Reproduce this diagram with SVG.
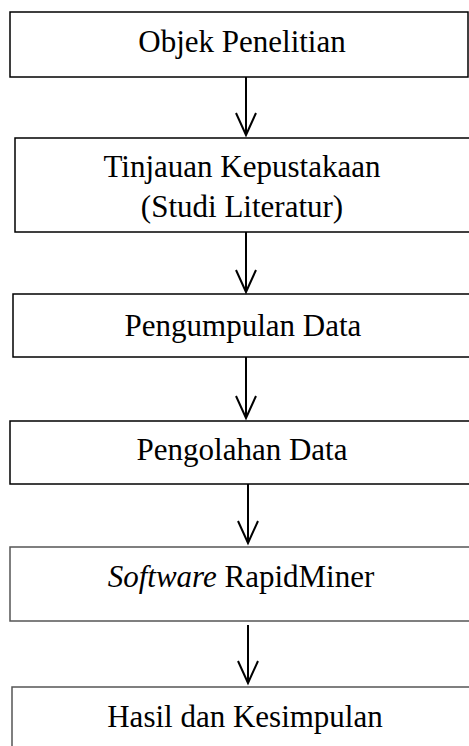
<svg xmlns="http://www.w3.org/2000/svg" width="469" height="746" viewBox="0 0 469 746">
<style>
.box{fill:#fff;stroke:#000;stroke-width:1.5}
.gray{stroke:#555}
text{font-family:'Liberation Serif','Times New Roman',Times,serif;font-size:31px;fill:#000;text-anchor:middle}
.c{stroke:#000;stroke-width:2;fill:none}
</style>
<defs>
<marker id="ah" markerWidth="26" markerHeight="24" refX="23" refY="12" orient="auto" markerUnits="userSpaceOnUse" viewBox="0 0 26 24">
<path d="M1,2 L23,12 L1,22" fill="none" stroke="#000" stroke-width="2"/>
</marker>
</defs>
<rect width="469" height="746" fill="#fff"/>
<g id="n1"><rect class="box" x="10" y="12" width="458" height="65"/><text x="242" y="52" font-family="Liberation Serif, serif">Objek Penelitian</text></g>
<g id="n2"><rect class="box" x="15" y="138" width="470" height="94"/><text x="242" y="177" font-family="Liberation Serif, serif">Tinjauan Kepustakaan</text><text x="242" y="217" font-family="Liberation Serif, serif">(Studi Literatur)</text></g>
<g id="n3"><rect class="box" x="13" y="294" width="470" height="63"/><text x="243" y="336" font-family="Liberation Serif, serif">Pengumpulan Data</text></g>
<g id="n4"><rect class="box" x="10" y="421" width="470" height="63"/><text x="242" y="460" font-family="Liberation Serif, serif">Pengolahan Data</text></g>
<g id="n5"><rect class="box gray" x="10" y="547" width="470" height="74"/><text x="241" y="587" font-family="Liberation Serif, serif"><tspan font-style="italic">Software</tspan> RapidMiner</text></g>
<g id="n6"><rect class="box gray" x="12" y="687" width="470" height="80"/><text x="245" y="727" font-family="Liberation Serif, serif">Hasil dan Kesimpulan</text></g>
<g id="connectors">
<line class="c" x1="246" y1="77" x2="246" y2="135" marker-end="url(#ah)"/>
<line class="c" x1="246" y1="232" x2="246" y2="292" marker-end="url(#ah)"/>
<line class="c" x1="246" y1="357" x2="246" y2="418" marker-end="url(#ah)"/>
<line class="c" x1="248" y1="484" x2="248" y2="543" marker-end="url(#ah)"/>
<line class="c" x1="248" y1="625" x2="248" y2="683" marker-end="url(#ah)"/>
</g>
</svg>
